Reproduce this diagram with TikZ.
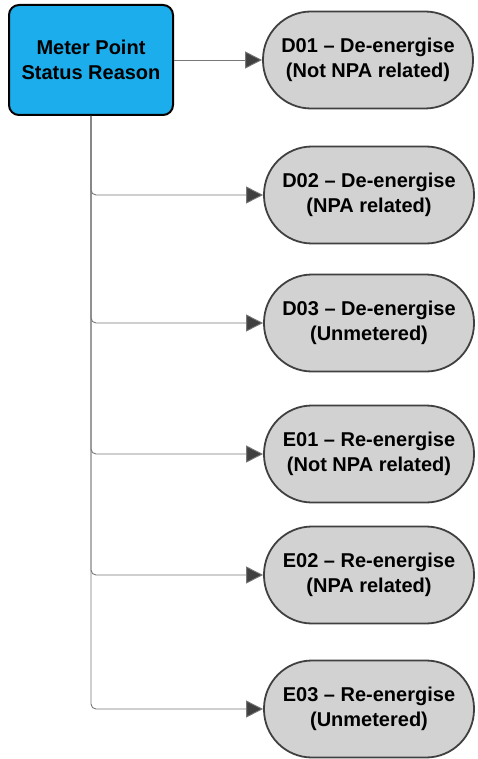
\documentclass[tikz,border=0pt]{standalone}
\usepackage{fontspec}
\setmainfont{Liberation Sans}
\usetikzlibrary{arrows.meta}
\definecolor{boxblue}{RGB}{28,174,236}
\definecolor{pillgray}{RGB}{210,210,210}
\definecolor{pillline}{RGB}{64,64,64}
\definecolor{connline}{RGB}{120,120,120}
\tikzset{
  srcbox/.style={draw=black, line width=2pt, fill=boxblue, rounded corners=10pt,
    minimum width=164pt, minimum height=110pt, align=center, inner sep=0pt,
    font=\fontsize{20}{25}\selectfont\bfseries},
  pill/.style={draw=pillline, line width=1.8pt, fill=pillgray, rounded corners=48pt,
    minimum width=210pt, minimum height=97pt, align=center, inner sep=0pt,
    font=\fontsize{20}{25}\selectfont\bfseries},
  conn/.style={draw=connline, line width=0.9pt, rounded corners=5pt,
    -{Triangle[length=17pt,width=17pt,fill=pillline]}},
}
\begin{document}
\begin{tikzpicture}[x=1pt,y=-1pt]
\useasboundingbox (0,0) rectangle (477,759);
\node[srcbox] (src) at (91,60) {Meter Point\\Status Reason};
\node[pill] (d01) at (368,60) {D01 -- De-energise\\(Not NPA related)};
\node[pill] (d02) at (369,195) {D02 -- De-energise\\(NPA related)};
\node[pill] (d03) at (369,323) {D03 -- De-energise\\(Unmetered)};
\node[pill] (e01) at (369,454) {E01 -- Re-energise\\(Not NPA related)};
\node[pill] (e02) at (369,575) {E02 -- Re-energise\\(NPA related)};
\node[pill] (e03) at (369,709) {E03 -- Re-energise\\(Unmetered)};
\draw[conn] (src.east) -- (d01.west);
\draw[conn] (src.south) |- (d02.west);
\draw[conn] (src.south) |- (d03.west);
\draw[conn] (src.south) |- (e01.west);
\draw[conn] (src.south) |- (e02.west);
\draw[conn] (src.south) |- (e03.west);
\end{tikzpicture}
\end{document}
